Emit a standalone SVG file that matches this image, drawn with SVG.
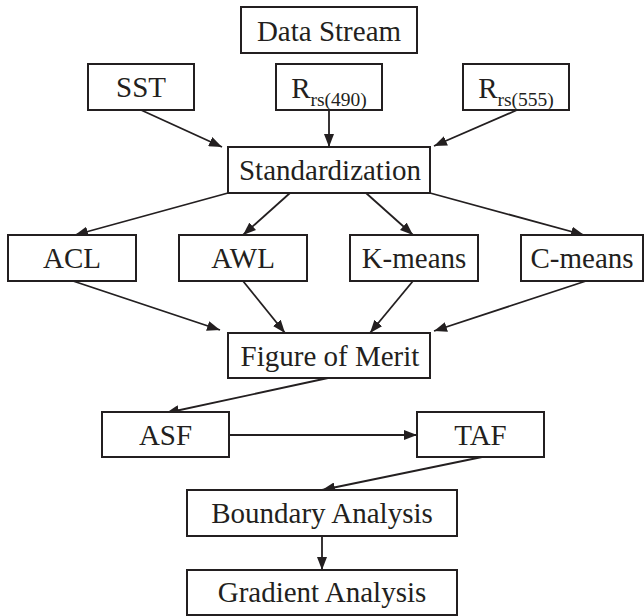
<svg xmlns="http://www.w3.org/2000/svg" width="644" height="616" viewBox="0 0 644 616">
<style>
.box{fill:#fff;stroke:#231f20;stroke-width:2}
.t{font-family:'Liberation Serif','Times New Roman',serif;font-size:29px;fill:#231f20;text-anchor:middle}
.sub{font-size:19.5px}
.c line{stroke:#231f20;stroke-width:1.8;marker-end:url(#ah)}
</style>
<defs>
<marker id="ah" markerUnits="userSpaceOnUse" markerWidth="13" markerHeight="10" refX="13" refY="5" orient="auto">
<path d="M0,0 L13,5 L0,10 z" fill="#231f20"/>
</marker>
</defs>
<rect width="644" height="616" fill="#fff"/>
<g class="c" id="connectors">
<line x1="141" y1="110" x2="222" y2="147"/>
<line x1="329" y1="110" x2="329" y2="147"/>
<line x1="517" y1="110" x2="434" y2="146"/>
<line x1="228" y1="193" x2="75" y2="235"/>
<line x1="290" y1="193" x2="243" y2="235"/>
<line x1="366" y1="193" x2="413" y2="235"/>
<line x1="430" y1="193" x2="584" y2="235"/>
<line x1="73" y1="281" x2="220" y2="330"/>
<line x1="243" y1="281" x2="285" y2="333"/>
<line x1="413" y1="281" x2="370" y2="333"/>
<line x1="586" y1="281" x2="434" y2="331"/>
<line x1="328" y1="378" x2="166" y2="413"/>
<line x1="229" y1="435" x2="417" y2="435"/>
<line x1="482" y1="457" x2="322" y2="490"/>
<line x1="322" y1="536" x2="322" y2="570"/>
</g>
<g id="data-stream"><rect class="box" x="241" y="7" width="176" height="46"/><text class="t" x="329" y="41">Data Stream</text></g>
<g id="sst"><rect class="box" x="88" y="64" width="106" height="46"/><text class="t" x="141" y="97">SST</text></g>
<g id="rrs490"><rect class="box" x="276" y="64" width="106" height="46"/><text class="t" x="329" y="98">R<tspan class="sub" dy="8">rs(490)</tspan></text></g>
<g id="rrs555"><rect class="box" x="463" y="64" width="106" height="46"/><text class="t" x="516" y="98">R<tspan class="sub" dy="8">rs(555)</tspan></text></g>
<g id="standardization"><rect class="box" x="228" y="147" width="202" height="46"/><text class="t" x="330" y="180">Standardization</text></g>
<g id="acl"><rect class="box" x="8" y="235" width="128" height="46"/><text class="t" x="72" y="268">ACL</text></g>
<g id="awl"><rect class="box" x="179" y="235" width="128" height="46"/><text class="t" x="243" y="268">AWL</text></g>
<g id="kmeans"><rect class="box" x="350" y="235" width="128" height="46"/><text class="t" x="414" y="268">K-means</text></g>
<g id="cmeans"><rect class="box" x="521" y="235" width="122" height="46"/><text class="t" x="582" y="268">C-means</text></g>
<g id="fom"><rect class="box" x="228" y="333" width="202" height="45"/><text class="t" x="330" y="366">Figure of Merit</text></g>
<g id="asf"><rect class="box" x="102" y="412" width="127" height="45"/><text class="t" x="165.5" y="445">ASF</text></g>
<g id="taf"><rect class="box" x="417" y="412" width="127" height="45"/><text class="t" x="480.5" y="445">TAF</text></g>
<g id="boundary"><rect class="box" x="187" y="490" width="270" height="46"/><text class="t" x="322" y="523">Boundary Analysis</text></g>
<g id="gradient"><rect class="box" x="187" y="570" width="270" height="45"/><text class="t" x="322" y="602">Gradient Analysis</text></g>
</svg>
